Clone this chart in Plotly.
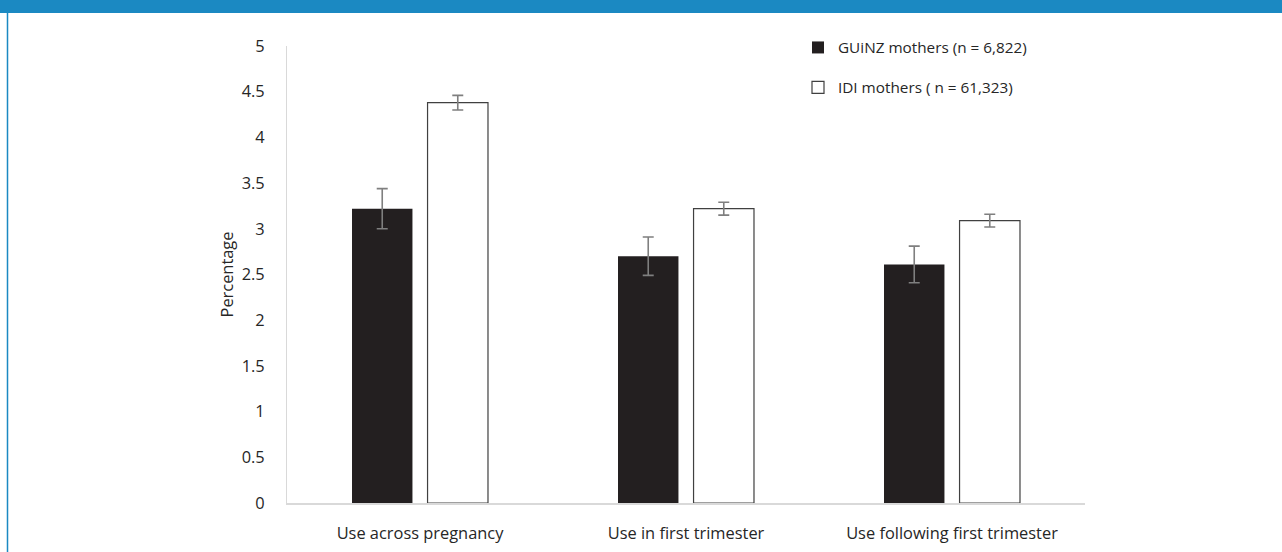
import plotly.graph_objects as go

# Prevalence of use (%) by period, with error bar half-widths
categories = ["Use across pregnancy", "Use in first trimester", "Use following first trimester"]
guinz_values = [3.22, 2.70, 2.61]
guinz_err = [0.22, 0.21, 0.20]
idi_values = [4.38, 3.22, 3.09]
idi_err = [0.08, 0.07, 0.07]
series_names = ["GUiNZ mothers (n = 6,822)", "IDI mothers ( n = 61,323)"]
y_ticks = [0, 0.5, 1, 1.5, 2, 2.5, 3, 3.5, 4, 4.5, 5]

W, H = 1282, 552
ML, MR, MT, MB = 287, 197, 46, 49
PW, PH = W - ML - MR, H - MT - MB

FONT = "Open Sans"
TEXT = "#262626"
TICK_SIZE = 16.4
err_style = dict(type="data", visible=True, color="#7f7f7f", thickness=1.6, width=5.5)

fig = go.Figure()
fig.add_trace(go.Bar(
    x=categories, y=guinz_values, name=series_names[0],
    marker=dict(color="#231f20", line=dict(color="#231f20", width=0)),
    error_y=dict(array=guinz_err, **err_style),
    legendgroup="a",
))
fig.add_trace(go.Bar(
    x=categories, y=idi_values, name=series_names[1],
    marker=dict(color="#ffffff", line=dict(color="#404040", width=1.2)),
    error_y=dict(array=idi_err, **err_style),
    legendgroup="b",
))


def px_x(px):
    return (px - ML) / PW


def px_y(py):
    return (H - MB - py) / PH


# Header band and left rule of the figure frame
fig.add_shape(type="rect", xref="paper", yref="paper",
              x0=px_x(0), x1=px_x(W), y0=px_y(13), y1=px_y(0),
              fillcolor="#1b89c2", line=dict(width=0), layer="above")
fig.add_shape(type="line", xref="paper", yref="paper",
              x0=px_x(7.5), x1=px_x(7.5), y0=px_y(13), y1=px_y(H),
              line=dict(color="#1b89c2", width=1.5))

fig.update_layout(
    width=W, height=H,
    margin=dict(l=ML, r=MR, t=MT, b=MB, pad=0, autoexpand=False),
    paper_bgcolor="white", plot_bgcolor="white",
    font=dict(family=FONT, size=15, color=TEXT),
    barmode="group", bargap=0.432, bargroupgap=0.2,
    showlegend=True,
    legend=dict(
        x=px_x(798), y=px_y(31), xanchor="left", yanchor="top",
        bgcolor="rgba(0,0,0,0)", font=dict(family=FONT, size=15.3, color=TEXT),
        traceorder="grouped", tracegroupgap=17,
    ),
    xaxis=dict(
        showline=True, linecolor="#d9d9d9", linewidth=2,
        ticks="", showgrid=False, zeroline=False, automargin=False,
        ticklabelstandoff=14,
        tickfont=dict(family=FONT, size=TICK_SIZE, color=TEXT),
    ),
    yaxis=dict(
        range=[0, 5], tickvals=y_ticks,
        ticktext=[f"{v:g}" for v in y_ticks],
        showline=True, linecolor="#d9d9d9", linewidth=1,
        ticks="", showgrid=False, zeroline=False, automargin=False,
        ticklabelstandoff=18,
        tickfont=dict(family=FONT, size=TICK_SIZE, color=TEXT),
        title=dict(text="Percentage", standoff=3,
                   font=dict(family=FONT, size=TICK_SIZE, color=TEXT)),
    ),
)

fig.write_html("out.html")
